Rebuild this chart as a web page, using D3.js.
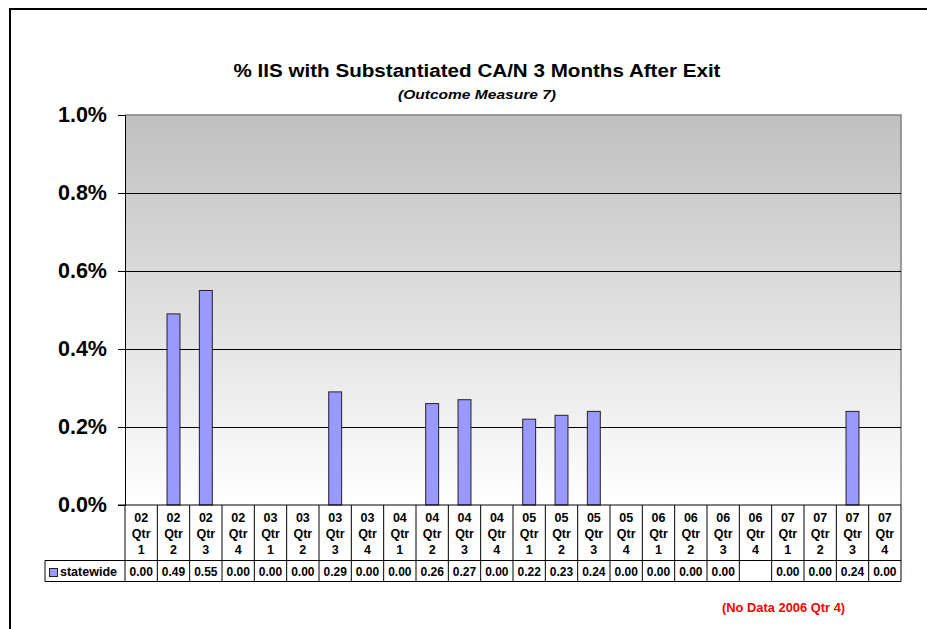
<!DOCTYPE html>
<html>
<head>
<meta charset="utf-8">
<script src="https://d3js.org/d3.v7.min.js"></script>
<style>
  body { margin: 0; background: #fff; }
  svg { display: block; font-family: "Liberation Sans", Arial, sans-serif; }
</style>
</head>
<body>
<div id="chart"></div>
<script>
// quarters (year, quarter)
var years = ['02','02','02','02','03','03','03','03','04','04','04','04',
             '05','05','05','05','06','06','06','06','07','07','07','07'];
var quarters = ['1','2','3','4','1','2','3','4','1','2','3','4',
                '1','2','3','4','1','2','3','4','1','2','3','4'];

// statewide values (percent), null = no data
var statewide = [0.00, 0.49, 0.55, 0.00, 0.00, 0.00, 0.29, 0.00, 0.00, 0.26, 0.27, 0.00,
                 0.22, 0.23, 0.24, 0.00, 0.00, 0.00, 0.00, null, 0.00, 0.00, 0.24, 0.00];

var yTicks = [0, 0.2, 0.4, 0.6, 0.8, 1.0];

var width = 927, height = 629;
var plot = {left: 125, right: 901, top: 115, bottom: 505};

var svg = d3.select('#chart').append('svg')
    .attr('width', width)
    .attr('height', height);

// outer frame (cut off at right/bottom)
svg.append('rect')
    .attr('x', 10).attr('y', 9)
    .attr('width', 940).attr('height', 700)
    .attr('fill', 'none')
    .attr('stroke', '#000')
    .attr('stroke-width', 2);

var keys = d3.range(years.length);

var x = d3.scaleBand()
    .domain(keys)
    .range([plot.left, plot.right])
    .paddingInner(0.6)
    .paddingOuter(0.3);

var xCell = d3.scaleBand()
    .domain(keys)
    .range([plot.left, plot.right]);

var y = d3.scaleLinear()
    .domain([0, 1])
    .range([plot.bottom, plot.top]);

// background gradient
var defs = svg.append('defs');
var grad = defs.append('linearGradient')
    .attr('id', 'bg')
    .attr('x1', 0).attr('y1', 0).attr('x2', 0).attr('y2', 1);
grad.append('stop').attr('offset', '0%').attr('stop-color', '#c0c0c0');
grad.append('stop').attr('offset', '100%').attr('stop-color', '#ffffff');

svg.append('rect')
    .attr('x', plot.left).attr('y', plot.top)
    .attr('width', plot.right - plot.left)
    .attr('height', plot.bottom - plot.top)
    .attr('fill', 'url(#bg)');

// plot border top/right (gray)
svg.append('path')
    .attr('d', 'M' + plot.left + ',' + plot.top + 'H' + plot.right + 'V' + plot.bottom)
    .attr('fill', 'none')
    .attr('stroke', '#808080')
    .attr('stroke-width', 1.5);

// gridlines
svg.append('g')
    .selectAll('line')
    .data(yTicks.filter(function(d){ return d > 0 && d < 1; }))
    .enter().append('line')
        .attr('x1', plot.left).attr('x2', plot.right)
        .attr('y1', function(d){ return Math.round(y(d)) + 0.5; })
        .attr('y2', function(d){ return Math.round(y(d)) + 0.5; })
        .attr('stroke', '#000')
        .attr('stroke-width', 1);

// y axis
var yAxis = d3.axisLeft(y)
    .tickValues(yTicks)
    .tickSize(7)
    .tickPadding(11)
    .tickFormat(function(d){ return d.toFixed(1) + '%'; });

var gy = svg.append('g')
    .attr('transform', 'translate(' + plot.left + ',0)')
    .call(yAxis);
gy.select('.domain').attr('stroke', '#000');
gy.selectAll('.tick line').attr('stroke', '#000');
gy.selectAll('.tick text')
    .attr('fill', '#000')
    .style('font-size', '21.5px')
    .style('font-weight', 'bold');

// bars
svg.append('g')
    .selectAll('rect')
    .data(keys.filter(function(i){ return statewide[i] > 0; }))
    .enter().append('rect')
        .attr('x', function(i){ return x(i); })
        .attr('y', function(i){ return y(statewide[i]); })
        .attr('width', x.bandwidth())
        .attr('height', function(i){ return y(0) - y(statewide[i]); })
        .attr('fill', '#9999ff')
        .attr('stroke', '#222')
        .attr('stroke-width', 1);

// baseline
svg.append('line')
    .attr('x1', plot.left - 7).attr('x2', plot.right)
    .attr('y1', plot.bottom).attr('y2', plot.bottom)
    .attr('stroke', '#000');

// data table
var rowTop = plot.bottom, rowMid = 560.5, rowBot = 581.5, legendLeft = 45;
var table = svg.append('g');

table.selectAll('line.v')
    .data(keys.concat([years.length]))
    .enter().append('line')
        .attr('x1', function(i){ return i < years.length ? xCell(i) : plot.right; })
        .attr('x2', function(i){ return i < years.length ? xCell(i) : plot.right; })
        .attr('y1', rowTop).attr('y2', rowBot)
        .attr('stroke', '#000');

table.append('line')
    .attr('x1', legendLeft).attr('x2', plot.right)
    .attr('y1', rowMid).attr('y2', rowMid)
    .attr('stroke', '#000');
table.append('line')
    .attr('x1', legendLeft).attr('x2', plot.right)
    .attr('y1', rowBot).attr('y2', rowBot)
    .attr('stroke', '#000');
table.append('line')
    .attr('x1', legendLeft).attr('x2', legendLeft)
    .attr('y1', rowMid).attr('y2', rowBot)
    .attr('stroke', '#000');

var labels = table.selectAll('text.cat')
    .data(keys)
    .enter().append('text')
        .attr('class', 'cat')
        .attr('text-anchor', 'middle')
        .style('font-size', '12.5px')
        .style('font-weight', 'bold')
        .attr('fill', '#000');
[function(i){ return years[i]; }, function(){ return 'Qtr'; }, function(i){ return quarters[i]; }]
    .forEach(function(fn, line){
        labels.append('tspan')
            .attr('x', function(i){ return xCell(i) + xCell.bandwidth() / 2; })
            .attr('y', 522 + line * 16)
            .text(fn);
    });

table.selectAll('text.val')
    .data(keys)
    .enter().append('text')
        .attr('class', 'val')
        .attr('x', function(i){ return xCell(i) + xCell.bandwidth() / 2; })
        .attr('y', 576)
        .attr('text-anchor', 'middle')
        .style('font-size', '12px')
        .style('font-weight', 'bold')
        .text(function(i){ return statewide[i] == null ? '' : statewide[i].toFixed(2); });

// legend key
table.append('rect')
    .attr('x', 49.5).attr('y', 568.5)
    .attr('width', 8).attr('height', 8)
    .attr('fill', '#9999ff')
    .attr('stroke', '#222');
table.append('text')
    .attr('x', 60).attr('y', 576)
    .style('font-size', '12.5px')
    .style('font-weight', 'bold')
    .text('statewide');

// titles
var cx = 477;
svg.append('text')
    .attr('x', cx).attr('y', 77)
    .attr('text-anchor', 'middle')
    .attr('textLength', 487)
    .attr('lengthAdjust', 'spacingAndGlyphs')
    .style('font-size', '17.5px')
    .style('font-weight', 'bold')
    .text('% IIS with Substantiated CA/N 3 Months After Exit');
svg.append('text')
    .attr('x', cx).attr('y', 99)
    .attr('text-anchor', 'middle')
    .attr('textLength', 158)
    .attr('lengthAdjust', 'spacingAndGlyphs')
    .style('font-size', '13.5px')
    .style('font-weight', 'bold')
    .style('font-style', 'italic')
    .text('(Outcome Measure 7)');

// note
svg.append('text')
    .attr('x', 783.5).attr('y', 611.5)
    .attr('text-anchor', 'middle')
    .attr('fill', '#ff0000')
    .style('font-size', '12.9px')
    .style('font-weight', 'bold')
    .text('(No Data 2006 Qtr 4)');
</script>
</body>
</html>
